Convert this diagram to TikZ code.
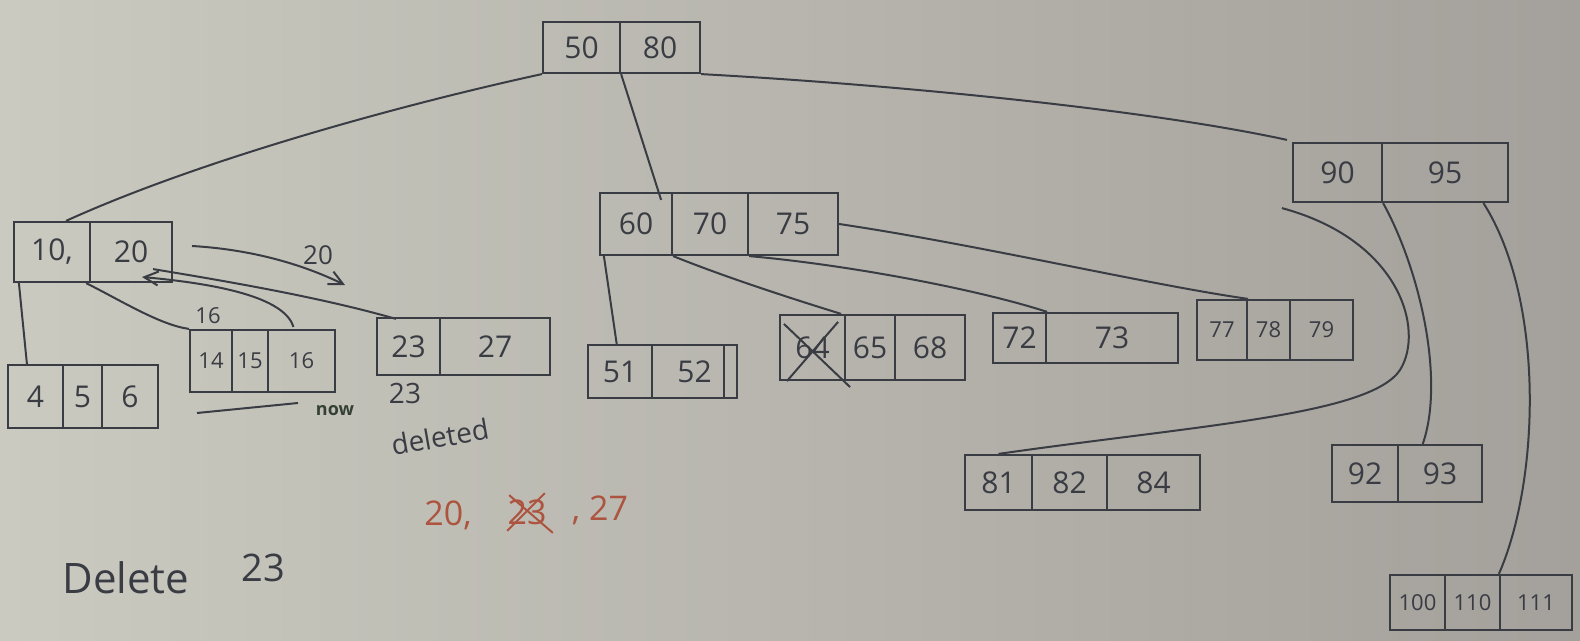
\documentclass[tikz,border=0pt]{standalone}
\usepackage{fontspec}
\setmainfont{Open Sans}
\usetikzlibrary{calc,arrows.meta}
\definecolor{ink}{RGB}{58,60,68}
\definecolor{redink}{RGB}{172,84,64}
\definecolor{paperL}{RGB}{202,202,192}
\definecolor{paperR}{RGB}{164,160,155}
\definecolor{greenink}{RGB}{52,64,52}
\begin{document}
\begin{tikzpicture}[x=0.5pt,y=-0.5pt,
  cell/.style 2 args={draw=ink, line width=1.1pt, minimum width=#1*0.5pt,
    minimum height=#2*0.5pt, inner sep=0pt, text=ink,
    font=\fontsize{15}{18}\selectfont},
  small/.style={font=\fontsize{11}{13}\selectfont},
  link/.style={draw=ink, line width=1pt},
  note/.style={text=ink, inner sep=0pt},
  rednote/.style={text=redink, inner sep=0pt, font=\fontsize{17}{20}\selectfont},
]
% paper
\fill[left color=paperL, right color=paperR] (0,0) rectangle (1580,641);
\useasboundingbox (0,0) rectangle (1580,641);

% root
\node[cell={77}{51}] (r50) at (581.5,47.5) {50};
\node[cell={80}{51}] (r80) at (660,47.5) {80};

% second level
\node[cell={76}{60}] (k10) at (52,252) {10,};
\node[cell={82}{60}] (k20) at (131,252) {20};
\node[cell={72}{62}] (k60) at (636,224) {60};
\node[cell={76}{62}] (k70) at (710,224) {70};
\node[cell={90}{62}] (k75) at (793,224) {75};
\node[cell={89}{59}] (k90) at (1337.5,172.5) {90};
\node[cell={126}{59}] (k95) at (1445,172.5) {95};

% leaves
\node[cell={55}{63}] (k4) at (35.5,396.5) {4};
\node[cell={39}{63}] (k5) at (82.5,396.5) {5};
\node[cell={56}{63}] (k6) at (130,396.5) {6};
\node[cell={42}{62},small] (k14) at (211,361) {14};
\node[cell={36}{62},small] (k15) at (250,361) {15};
\node[cell={67}{62},small] (k16) at (301.5,361) {16};
\node[cell={63}{57}] (k23) at (408.5,346.5) {23};
\node[cell={110}{57}] (k27) at (495,346.5) {27};
\node[cell={64}{53}] (k51) at (620,371.5) {51};
\node[cell={85}{53}] (k52) at (694.5,371.5) {52};
\node[cell={65}{65}] (k64) at (812.5,347.5) {64};
\node[cell={50}{65}] (k65) at (870,347.5) {65};
\node[cell={70}{65}] (k68) at (930,347.5) {68};
\node[cell={53}{50}] (k72) at (1019.5,338) {72};
\node[cell={132}{50}] (k73) at (1112,338) {73};
\node[cell={50}{60},small] (k77) at (1222,330) {77};
\node[cell={43}{60},small] (k78) at (1268.5,330) {78};
\node[cell={63}{60},small] (k79) at (1321.5,330) {79};
\node[cell={67}{55}] (k81) at (998.5,482.5) {81};
\node[cell={75}{55}] (k82) at (1069.5,482.5) {82};
\node[cell={93}{55}] (k84) at (1153.5,482.5) {84};
\node[cell={66}{57}] (k92) at (1365,473.5) {92};
\node[cell={84}{57}] (k93) at (1440,473.5) {93};
\node[cell={55}{55},small] (k100) at (1417.5,602.5) {100};
\node[cell={55}{55},small] (k110) at (1472.5,602.5) {110};
\node[cell={72}{55},small] (k111) at (1536,602.5) {111};

% stray stroke in 52 and the removed key 64
\draw[link] ($(k52.north east)+(-14,0)$) -- ($(k52.south east)+(-14,0)$);
\draw[link] ($(k64.north west)+(5,10)$) -- ($(k64.south east)+(4,6)$);
\draw[link] ($(k64.north east)+(-8,8)$) -- ($(k64.south west)+(8,0)$);

% root links
\draw[link] (r50.south west) .. controls (400,105) and (200,160) .. ($(k10.north)+(14,0)$);
\draw[link] (r50.south east) -- ($(k60.north east)+(-12,8)$);
\draw[link] (r80.south east) .. controls (900,85) and (1150,110) .. ($(k90.north west)+(-5,-2)$);

% links of 10|20
\draw[link] ($(k10.south west)+(6,0)$) -- ($(k4.north west)!0.35!(k4.north east)$);
\draw[link] ($(k10.south east)+(-5,0)$) .. controls (120,300) and (160,325) .. (k14.north west);
\draw[link] ($(k20.south east)+(-20,-14)$) .. controls (250,285) and (330,300) .. ($(k23.north west)+(20,2)$);

% links of 60|70|75
\draw[link] ($(k60.south west)+(5,0)$) -- ($(k51.north west)!0.45!(k51.north east)$);
\draw[link] (k60.south east) .. controls (720,275) and (780,295) .. ($(k64.north east)+(-5,0)$);
\draw[link] (k70.south east) .. controls (850,265) and (980,290) .. (k72.north east);
\draw[link] (k75.east) .. controls (980,245) and (1150,285) .. (k77.north east);

% links of 90|95
\draw[link] ($(k90.south west)+(-10,5)$) .. controls (1400,240) and (1425,330) .. (1400,370)
  .. controls (1370,415) and (1200,425) .. (k81.north);
\draw[link] (k90.south east) .. controls (1420,270) and (1445,380) .. ($(k93.north west)!0.3!(k93.north east)$);
\draw[link] ($(k95.south)!0.6!(k95.south east)$) .. controls (1545,300) and (1540,480) .. (k111.north west);

% borrowing notes
\coordinate (a16) at (142,277);
\draw[link,-{Straight Barb[length=7pt,width=7pt]}] ($(k16.north)+(-8,-2)$) .. controls (285,300) and (230,285) .. (a16);
\node[note,font=\fontsize{11}{13}\selectfont] (l16) at (208,316) {16};
\coordinate (b20s) at (192,246);
\coordinate (b20e) at (345,285);
\draw[link,-{Straight Barb[length=7pt,width=7pt]}] (b20s) .. controls (260,250) and (310,268) .. (b20e);
\node[note,font=\fontsize{13}{15}\selectfont] (l20) at (318,255) {20};
\coordinate (u1) at (197,413);
\coordinate (u2) at (298,403);
\draw[link] (u1) -- (u2);
\node[text=greenink,inner sep=0pt,font=\bfseries\fontsize{9}{11}\selectfont] (now) at (335,411) {now};
\node[note,font=\fontsize{14}{16}\selectfont] (n23) at (405,394) {23};
\node[note,font=\fontsize{14}{16}\selectfont,rotate=10] (del) at (440,437) {deleted};

% merged keys
\node[rednote] (s20) at (448,515) {20,};
\node[rednote] (s23) at (527,512) {23};
\node[rednote] (s27) at (600,510) {, 27};
\draw[redink,line width=1pt] ($(s23.north west)+(2,-4)$) -- ($(s23.south east)+(6,8)$);
\draw[redink,line width=1pt] ($(s23.north east)+(-2,-6)$) -- ($(s23.south west)+(0,6)$);

% title
\node[note,font=\fontsize{21}{24}\selectfont] (t1) at (126,578) {Delete};
\node[note,font=\fontsize{19}{22}\selectfont] (t2) at (263,568) {23};
\end{tikzpicture}
\end{document}
